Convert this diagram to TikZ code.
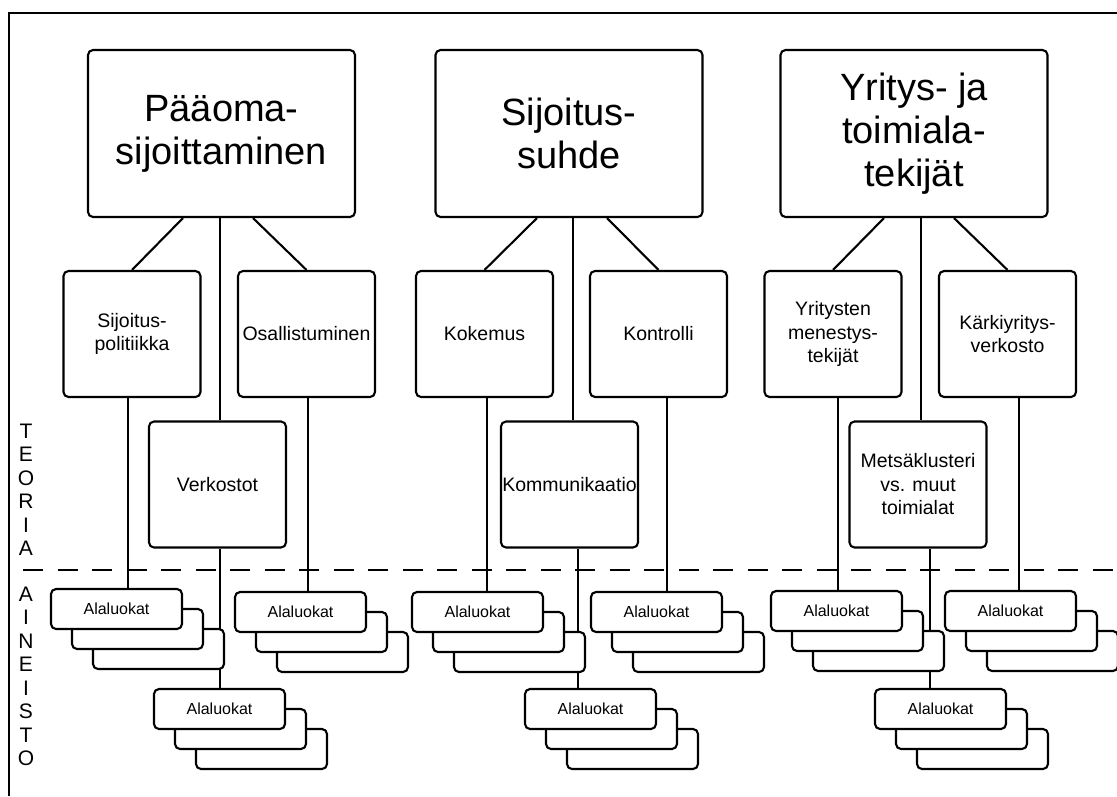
\documentclass[tikz,border=0pt]{standalone}
\usepackage{fontspec}
\setmainfont{Liberation Sans}
\pgfdeclarelayer{background}
\pgfsetlayers{background,main}
\newcommand\alastack[3]{%
  \node[subbox] (#1c) at (#2+42+65.5,#3+40+20) {};
  \node[subbox] (#1b) at (#2+21+65.5,#3+20+20) {};
  \node[subbox] (#1)  at (#2+65.5,#3+20) {Alaluokat};
}
\begin{document}
\begin{tikzpicture}[x=1pt,y=-1pt,
  box/.style={draw, line width=2.1pt, rounded corners=5pt, fill=white, align=center, inner sep=0pt},
  bigbox/.style={box, minimum width=267pt, minimum height=167pt, font=\fontsize{38}{43}\selectfont},
  midbox/.style={box, minimum width=137pt, minimum height=126pt, font=\fontsize{19.5}{23.5}\selectfont},
  subbox/.style={box, minimum width=131pt, minimum height=40pt, font=\fontsize{16}{19}\selectfont},
  link/.style={line width=2.1pt},
  side/.style={align=center, inner sep=0pt, font=\fontsize{21}{23.5}\selectfont}
]
\useasboundingbox (0,0) rectangle (1117,796);
% frame
\draw[line width=1.3pt] (9,796) -- (9,13) -- (1117,13);

% top level
\node[bigbox] (top1) at (221.5,133.5) {Pääoma-\\sijoittaminen};
\node[bigbox] (top2) at (569,133.5) {Sijoitus-\\suhde};
\node[bigbox] (top3) at (914,133.5) {Yritys- ja\\toimiala-\\tekijät};

% second level
\node[midbox] (s1) at (132,334) {Sijoitus-\\politiikka};
\node[midbox] (s2) at (306.5,334) {Osallistuminen};
\node[midbox] (v1) at (217.5,484.5) {Verkostot};
\node[midbox] (k1) at (484.5,334) {Kokemus};
\node[midbox] (k2) at (658.5,334) {Kontrolli};
\node[midbox] (v2) at (569.5,484.5) {Kommunikaatio};
\node[midbox] (y1) at (833,334) {Yritysten\\menestys-\\tekijät};
\node[midbox] (y2) at (1007.5,334) {Kärkiyritys-\\verkosto};
\node[midbox] (v3) at (918,484.5) {Metsäklusteri\\vs. muut\\toimialat};

% Alaluokat stacks
\alastack{a1}{51}{589}
\alastack{a2}{235}{592}
\alastack{a3}{154}{689}
\alastack{b1}{412}{592}
\alastack{b2}{591}{592}
\alastack{b3}{525}{689}
\alastack{c1}{771}{591}
\alastack{c2}{945}{591}
\alastack{c3}{875}{689}

% side labels
\node[side] (teoria) at (26,490) {T\\E\\O\\R\\I\\A};
\node[side] (aineisto) at (26,676.5) {A\\I\\N\\E\\I\\S\\T\\O};

\begin{pgfonlayer}{background}
% top -> second level
\draw[link] ([xshift=-38.5pt]top1.south) -- (s1.north);
\draw[link] ([xshift=31.5pt]top1.south) -- (s2.north);
\draw[link] ([xshift=-1.5pt]top1.south) -- ([xshift=-1.5pt]top1.south |- v1.north);
\draw[link] ([xshift=-32pt]top2.south) -- (k1.north);
\draw[link] ([xshift=38pt]top2.south) -- (k2.north);
\draw[link] ([xshift=4pt]top2.south) -- ([xshift=4pt]top2.south |- v2.north);
\draw[link] ([xshift=-30pt]top3.south) -- (y1.north);
\draw[link] ([xshift=40pt]top3.south) -- (y2.north);
\draw[link] ([xshift=7pt]top3.south) -- ([xshift=7pt]top3.south |- v3.north);
% second level -> Alaluokat
\draw[link] ([xshift=-4pt]s1.south) -- ([xshift=-4pt]s1.south |- a1.north);
\draw[link] ([xshift=1.5pt]s2.south) -- ([xshift=1.5pt]s2.south |- a2.north);
\draw[link] ([xshift=2.5pt]v1.south) -- ([xshift=2.5pt]v1.south |- a3.north);
\draw[link] ([xshift=2.5pt]k1.south) -- ([xshift=2.5pt]k1.south |- b1.north);
\draw[link] ([xshift=8.5pt]k2.south) -- ([xshift=8.5pt]k2.south |- b2.north);
\draw[link] ([xshift=8.5pt]v2.south) -- ([xshift=8.5pt]v2.south |- b3.north);
\draw[link] ([xshift=5pt]y1.south) -- ([xshift=5pt]y1.south |- c1.north);
\draw[link] ([xshift=11.5pt]y2.south) -- ([xshift=11.5pt]y2.south |- c2.north);
\draw[link] ([xshift=12pt]v3.south) -- ([xshift=12pt]v3.south |- c3.north);
% dashed divider
\draw[line width=2.1pt, dash pattern=on 20pt off 14.5pt] (23,570) -- (1117,570);
\end{pgfonlayer}
\end{tikzpicture}
\end{document}
